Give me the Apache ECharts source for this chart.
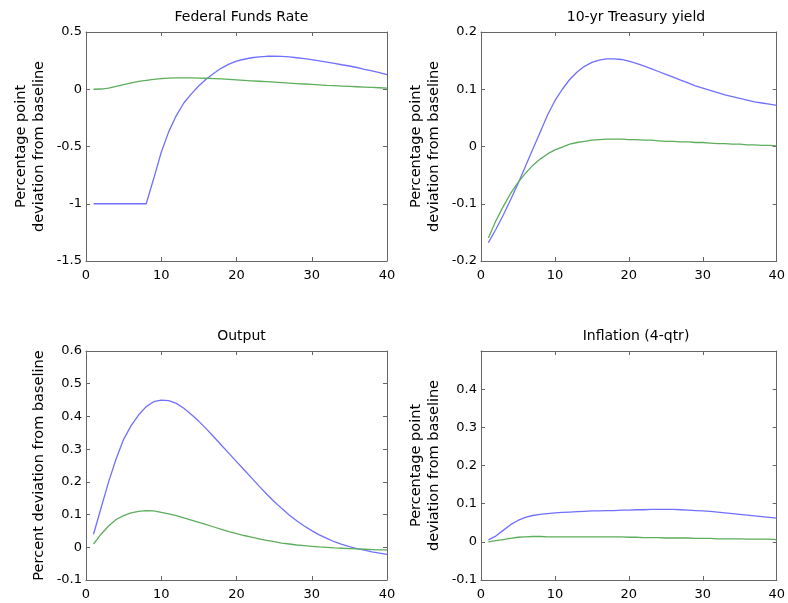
<!DOCTYPE html>
<html><head><meta charset="utf-8">
<script src="https://cdn.jsdelivr.net/npm/echarts@6/dist/echarts.min.js"></script>
<style>html,body{margin:0;padding:0;background:#fff}#c{width:788px;height:603px}</style>
</head><body><div id="c"></div>
<script>
const quarters = [1,2,3,4,5,6,7,8,9,10,11,12,13,14,15,16,17,18,19,20,21,22,23,24,25,26,27,28,29,30,31,32,33,34,35,36,37,38,39,40];

const ffrBlue = [-1,-1,-1,-1,-1,-1,-1,-1,-0.78,-0.55,-0.37,-0.23,-0.12,-0.04,0.03,0.09,0.14,0.185,0.22,0.245,0.262,0.275,0.283,0.288,0.29,0.287,0.282,0.275,0.267,0.258,0.248,0.237,0.226,0.214,0.203,0.19,0.174,0.16,0.146,0.128];
const ffrGreen = [0,0.002,0.01,0.025,0.04,0.055,0.068,0.078,0.087,0.093,0.097,0.099,0.1,0.1,0.098,0.096,0.093,0.09,0.086,0.082,0.078,0.074,0.07,0.066,0.062,0.058,0.054,0.05,0.046,0.042,0.038,0.034,0.031,0.028,0.025,0.022,0.019,0.016,0.013,0.01];

const tsyBlue = [-0.168,-0.145,-0.12,-0.093,-0.065,-0.035,-0.005,0.025,0.055,0.08,0.1,0.117,0.13,0.14,0.147,0.151,0.153,0.153,0.152,0.149,0.145,0.141,0.136,0.131,0.126,0.121,0.116,0.111,0.106,0.102,0.098,0.094,0.09,0.087,0.084,0.081,0.078,0.076,0.074,0.072];
const tsyGreen = [-0.16,-0.13,-0.105,-0.082,-0.063,-0.047,-0.033,-0.022,-0.013,-0.006,-0.001,0.004,0.007,0.009,0.011,0.012,0.013,0.013,0.013,0.012,0.012,0.011,0.011,0.01,0.009,0.009,0.008,0.008,0.007,0.007,0.006,0.005,0.005,0.004,0.004,0.003,0.003,0.002,0.002,0.001];

const outBlue = [0.04,0.12,0.2,0.27,0.33,0.372,0.405,0.43,0.445,0.45,0.448,0.44,0.425,0.406,0.385,0.362,0.337,0.312,0.287,0.262,0.237,0.212,0.187,0.163,0.14,0.119,0.099,0.081,0.065,0.051,0.038,0.027,0.017,0.009,0.002,-0.004,-0.009,-0.014,-0.018,-0.022];
const outGreen = [0.01,0.04,0.065,0.085,0.097,0.105,0.11,0.112,0.111,0.107,0.102,0.097,0.09,0.083,0.076,0.069,0.062,0.055,0.048,0.042,0.036,0.031,0.026,0.021,0.017,0.013,0.01,0.007,0.005,0.003,0.001,0,-0.002,-0.003,-0.004,-0.005,-0.006,-0.007,-0.008,-0.008];

const infBlue = [0.005,0.015,0.03,0.045,0.056,0.064,0.069,0.072,0.074,0.076,0.077,0.078,0.079,0.08,0.081,0.081,0.082,0.082,0.083,0.083,0.084,0.084,0.085,0.085,0.085,0.085,0.084,0.083,0.082,0.081,0.08,0.078,0.076,0.074,0.072,0.07,0.068,0.066,0.064,0.062];
const infGreen = [0,0.003,0.006,0.009,0.012,0.013,0.014,0.014,0.013,0.013,0.013,0.013,0.013,0.013,0.013,0.013,0.013,0.013,0.013,0.012,0.012,0.011,0.011,0.011,0.01,0.01,0.01,0.01,0.009,0.009,0.009,0.008,0.008,0.008,0.008,0.007,0.007,0.007,0.007,0.006];

const titles = ['Federal Funds Rate','10-yr Treasury yield','Output','Inflation (4-qtr)'];
const yNames = ['Percentage point\ndeviation from baseline','Percentage point\ndeviation from baseline','Percent deviation from baseline','Percentage point\ndeviation from baseline'];
const yRanges = [[-1.5,0.5,0.5],[-0.2,0.2,0.1],[-0.1,0.6,0.1],[-0.1,0.5,0.1]];
const xRange = [0,40,10];
const blues = [ffrBlue,tsyBlue,outBlue,infBlue];
const greens = [ffrGreen,tsyGreen,outGreen,infGreen];

const grids = [
  {left:86, top:32, width:301, height:229},
  {left:481, top:32, width:300, height:229},
  {left:86, top:351, width:301, height:229},
  {left:481, top:351, width:300, height:229}
];
const font = '"DejaVu Sans", "Liberation Sans", Arial, sans-serif';
const axisColor = '#666';
const textColor = '#000';
const BLUE = '#7070ff', GREEN = '#5cae5c';

function pairs(ys){ return quarters.map((q,i)=>[q, ys[i]]); }

const xAxis = [], yAxis = [], series = [], title = [];
grids.forEach((g,i)=>{
  const [ymin,ymax,yint] = yRanges[i];
  title.push({text:titles[i], left:g.left + g.width/2, top:g.top-27, textAlign:'center',
    textStyle:{fontFamily:font,fontSize:14,fontWeight:'normal',color:textColor}});
  xAxis.push({type:'value', gridIndex:i, min:xRange[0], max:xRange[1], interval:xRange[2], position:'bottom',
    axisLine:{show:true,onZero:false,lineStyle:{color:axisColor}}, axisTick:{inside:true,length:4,lineStyle:{color:axisColor}},
    axisLabel:{fontFamily:font,fontSize:13,color:textColor,margin:8}, splitLine:{show:false}});
  xAxis.push({type:'value', gridIndex:i, min:xRange[0], max:xRange[1], interval:xRange[2], position:'top',
    axisLine:{show:true,onZero:false,lineStyle:{color:axisColor}}, axisTick:{inside:true,length:4,lineStyle:{color:axisColor}},
    axisLabel:{show:false}, splitLine:{show:false}});
  yAxis.push({type:'value', gridIndex:i, min:ymin, max:ymax, interval:yint, position:'left',
    name:yNames[i], nameLocation:'middle', nameRotate:90, nameGap:38,
    nameTextStyle:{fontFamily:font,fontSize:14.5,color:textColor,lineHeight:18},
    axisLine:{show:true,onZero:false,lineStyle:{color:axisColor}}, axisTick:{inside:true,length:4,lineStyle:{color:axisColor}},
    axisLabel:{fontFamily:font,fontSize:13,color:textColor,margin:4, showMaxLabel: i!==3}, splitLine:{show:false}});
  yAxis.push({type:'value', gridIndex:i, min:ymin, max:ymax, interval:yint, position:'right',
    axisLine:{show:true,onZero:false,lineStyle:{color:axisColor}}, axisTick:{inside:true,length:4,lineStyle:{color:axisColor}},
    axisLabel:{show:false}, splitLine:{show:false}});
  series.push({type:'line', xAxisIndex:2*i, yAxisIndex:2*i, data:pairs(blues[i]), showSymbol:false, smooth:false,
    lineStyle:{color:BLUE,width:1.3}, itemStyle:{color:BLUE}, silent:true, animation:false});
  series.push({type:'line', xAxisIndex:2*i, yAxisIndex:2*i, data:pairs(greens[i]), showSymbol:false, smooth:false,
    lineStyle:{color:GREEN,width:1.3}, itemStyle:{color:GREEN}, silent:true, animation:false});
});

const chart = echarts.init(document.getElementById('c'), null, {renderer:'canvas'});
chart.setOption({animation:false, backgroundColor:'#fff', title, grid:grids, xAxis, yAxis, series});
</script></body></html>
